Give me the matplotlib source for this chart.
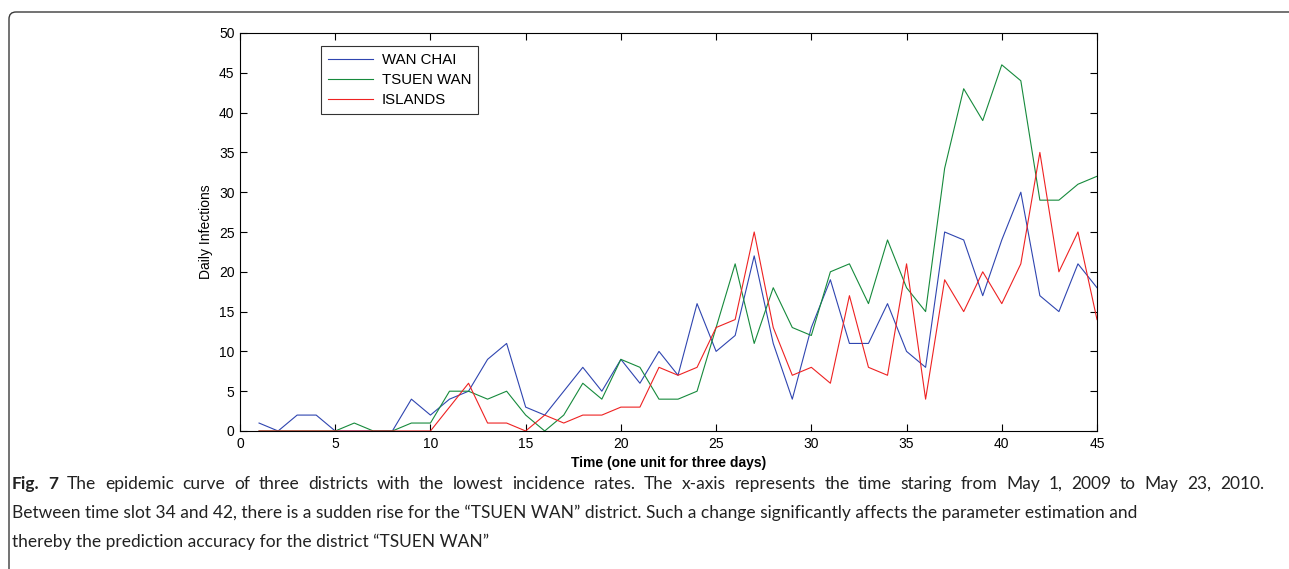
import matplotlib.pyplot as plt
from matplotlib.patches import PathPatch
from matplotlib.path import Path

# time slots and daily infections per district
t = list(range(1, 46))
wan_chai = [1, 0, 2, 2, 0, 0, 0, 0, 4, 2, 4, 5, 9, 11, 3, 2, 5, 8, 5, 9,
            6, 10, 7, 16, 10, 12, 22, 11, 4, 13, 19, 11, 11, 16, 10, 8, 25, 24, 17, 24,
            30, 17, 15, 21, 18]
tsuen_wan = [0, 0, 0, 0, 0, 1, 0, 0, 1, 1, 5, 5, 4, 5, 2, 0, 2, 6, 4, 9,
             8, 4, 4, 5, 13, 21, 11, 18, 13, 12, 20, 21, 16, 24, 18, 15, 33, 43, 39, 46,
             44, 29, 29, 31, 32]
islands = [0, 0, 0, 0, 0, 0, 0, 0, 0, 0, 3, 6, 1, 1, 0, 2, 1, 2, 2, 3,
           3, 8, 7, 8, 13, 14, 25, 13, 7, 8, 6, 17, 8, 7, 21, 4, 19, 15, 20, 16,
           21, 35, 20, 25, 14]

caption_1 = ('The epidemic curve of three districts with the lowest incidence rates. '
             'The x-axis represents the time staring from May 1, 2009 to May 23, 2010.')
caption_2 = ('Between time slot 34 and 42, there is a sudden rise for the \u201cTSUEN WAN\u201d '
             'district. Such a change significantly affects the parameter estimation and')
caption_3 = 'thereby the prediction accuracy for the district \u201cTSUEN WAN\u201d'

plt.rcParams['font.family'] = ['Liberation Sans', 'DejaVu Sans']

W, H = 1289, 569
fig = plt.figure(figsize=(W / 100, H / 100), dpi=100)

def px(x, y):
    return (x / W, 1 - y / H)

# outer caption frame: rounded top-left corner, open to the right and bottom
r = 7
verts = [px(9, H + 5), px(9, 12 + r), px(9, 12), px(9 + r, 12), px(W + 5, 12)]
codes = [Path.MOVETO, Path.LINETO, Path.CURVE3, Path.CURVE3, Path.LINETO]
fig.patches.append(PathPatch(Path(verts, codes), transform=fig.transFigure,
                             fill=False, edgecolor='#3a3a3a', linewidth=1.0))

ax = fig.add_axes([240 / W, 1 - 431 / H, (1097 - 240) / W, (431 - 33) / H])
ax.plot(t, wan_chai, color='#2f45b0', lw=0.8, label='WAN CHAI')
ax.plot(t, tsuen_wan, color='#168a3c', lw=0.8, label='TSUEN WAN')
ax.plot(t, islands, color='#ee2222', lw=0.8, label='ISLANDS')

ax.set_xlim(0, 45)
ax.set_ylim(0, 50)
ax.set_xticks(range(0, 46, 5))
ax.set_yticks(range(0, 51, 5))
ax.tick_params(direction='in', top=True, right=True, length=5, width=0.8,
               labelsize=10, pad=4)
for s in ax.spines.values():
    s.set_linewidth(0.8)
ax.set_xlabel('Time (one unit for three days)', fontsize=10, fontweight='bold',
              labelpad=4)
ax.set_ylabel('Daily Infections', fontsize=10, labelpad=4)

leg = ax.legend(loc='upper left', bbox_to_anchor=(0.0945, 0.967), fontsize=10.8,
                frameon=True, fancybox=False, edgecolor='black',
                borderpad=0.45, labelspacing=0.42, handlelength=3.0,
                handletextpad=0.6, borderaxespad=0)
leg.get_frame().set_linewidth(0.8)

# caption; first line is justified across the full width
cap_font = ['Lato', 'DejaVu Sans']
cap_kw = dict(fontsize=12.5, family=cap_font, va='center', color='#222222')
renderer = fig.canvas.get_renderer()
words = [('Fig.', 'bold'), ('7', 'bold')] + [(w, 'normal') for w in caption_1.split()]
items = []
for w, weight in words:
    tx = fig.text(0, 1 - 484 / H, w, fontweight=weight, **cap_kw)
    items.append((tx, tx.get_window_extent(renderer).width))
left, right = 12, 1264
gap = (right - left - sum(wd for _, wd in items)) / (len(items) - 1)
xpos = left
for tx, wd in items:
    tx.set_x(xpos / W)
    xpos += wd + gap

fig.text(12 / W, 1 - 513 / H, caption_2, **cap_kw)
fig.text(12 / W, 1 - 542 / H, caption_3, **cap_kw)

fig.savefig('out.png', dpi=100)
